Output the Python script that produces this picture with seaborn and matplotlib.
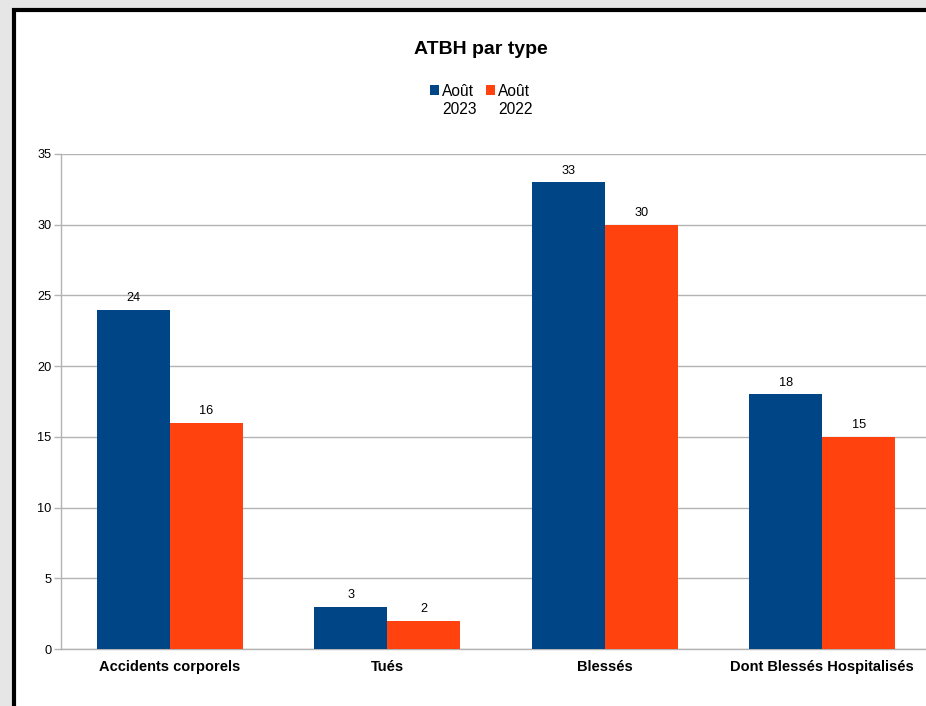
import matplotlib
matplotlib.use("Agg")
import matplotlib.pyplot as plt
from matplotlib.patches import Rectangle
import seaborn as sns
import pandas as pd

categories = ["Accidents corporels", "Tués", "Blessés", "Dont Blessés Hospitalisés"]
series_names = ["Août\n2023", "Août\n2022"]
values_2023 = [24, 3, 33, 18]
values_2022 = [16, 2, 30, 15]
yticks = [0, 5, 10, 15, 20, 25, 30, 35]
colors = ["#004586", "#ff420e"]
title = "ATBH par type"

df = pd.DataFrame({
    "cat": categories * 2,
    "serie": [series_names[0]] * 4 + [series_names[1]] * 4,
    "val": values_2023 + values_2022,
})

sns.set_style("white")
plt.rcParams["font.family"] = ["Liberation Sans", "DejaVu Sans"]
plt.rcParams["text.color"] = "black"
plt.rcParams["xtick.color"] = "black"
plt.rcParams["ytick.color"] = "black"
plt.rcParams["axes.labelcolor"] = "black"

W, H = 926, 706
fig = plt.figure(figsize=(W / 100, H / 100), dpi=100)
fig.patch.set_facecolor("#e6e6e6")

# white chart area with black border (top/left visible)
fig.add_artist(Rectangle((14.5 / W, -0.1), 1.2, (H - 10.5) / H + 0.1,
                         transform=fig.transFigure, facecolor="white",
                         edgecolor="black", linewidth=3, zorder=0))

ax = fig.add_axes([61 / W, 57 / H, 870 / W, 495 / H])
ax.set_facecolor("none")
sns.barplot(data=df, x="cat", y="val", hue="serie", palette=colors,
            width=0.67, saturation=1, ax=ax, legend=False, zorder=3,
            linewidth=0, edgecolor="none")

for c in ax.containers:
    ax.bar_label(c, padding=4, fontsize=9.2, color="black")

ax.set_xlim(-0.5, 3.5)
ax.set_ylim(0, 35)
ax.set_yticks(yticks)
ax.set_yticklabels([str(v) for v in yticks], fontsize=9.2, color="black")
ax.yaxis.grid(True, color="#b3b3b3", linewidth=1, zorder=0)
ax.set_axisbelow(True)
ax.set_xlabel("")
ax.set_ylabel("")
ax.set_xticks(range(len(categories)))
ax.set_xticklabels(categories, fontsize=10.5, fontweight="bold", color="black")
ax.set_xticks([-0.5, 0.5, 1.5, 2.5, 3.5], minor=True)
ax.tick_params(axis="x", which="major", length=0, pad=8)
ax.tick_params(axis="x", which="minor", length=5, color="#b3b3b3", width=1)
ax.tick_params(axis="y", length=5, color="#b3b3b3", width=1, pad=2, left=True)
for s in ["top", "right"]:
    ax.spines[s].set_visible(False)
for s in ["left", "bottom"]:
    ax.spines[s].set_color("#b3b3b3")
    ax.spines[s].set_linewidth(1)

fig.text(481 / W, 1 - 50 / H, title, ha="center", va="center",
         fontsize=14, fontweight="bold", color="black")

# legend
leg_x = [430, 486]
for i, name in enumerate(series_names):
    fig.add_artist(Rectangle((leg_x[i] / W, 1 - 95 / H), 9 / W, 10 / H,
                             transform=fig.transFigure, facecolor=colors[i],
                             edgecolor="none"))
    fig.text((leg_x[i] + 12) / W, 1 - 84.5 / H, name, ha="left", va="top",
             fontsize=11.2, linespacing=1.2, color="black")

fig.savefig("out.png", dpi=100, facecolor=fig.get_facecolor())
